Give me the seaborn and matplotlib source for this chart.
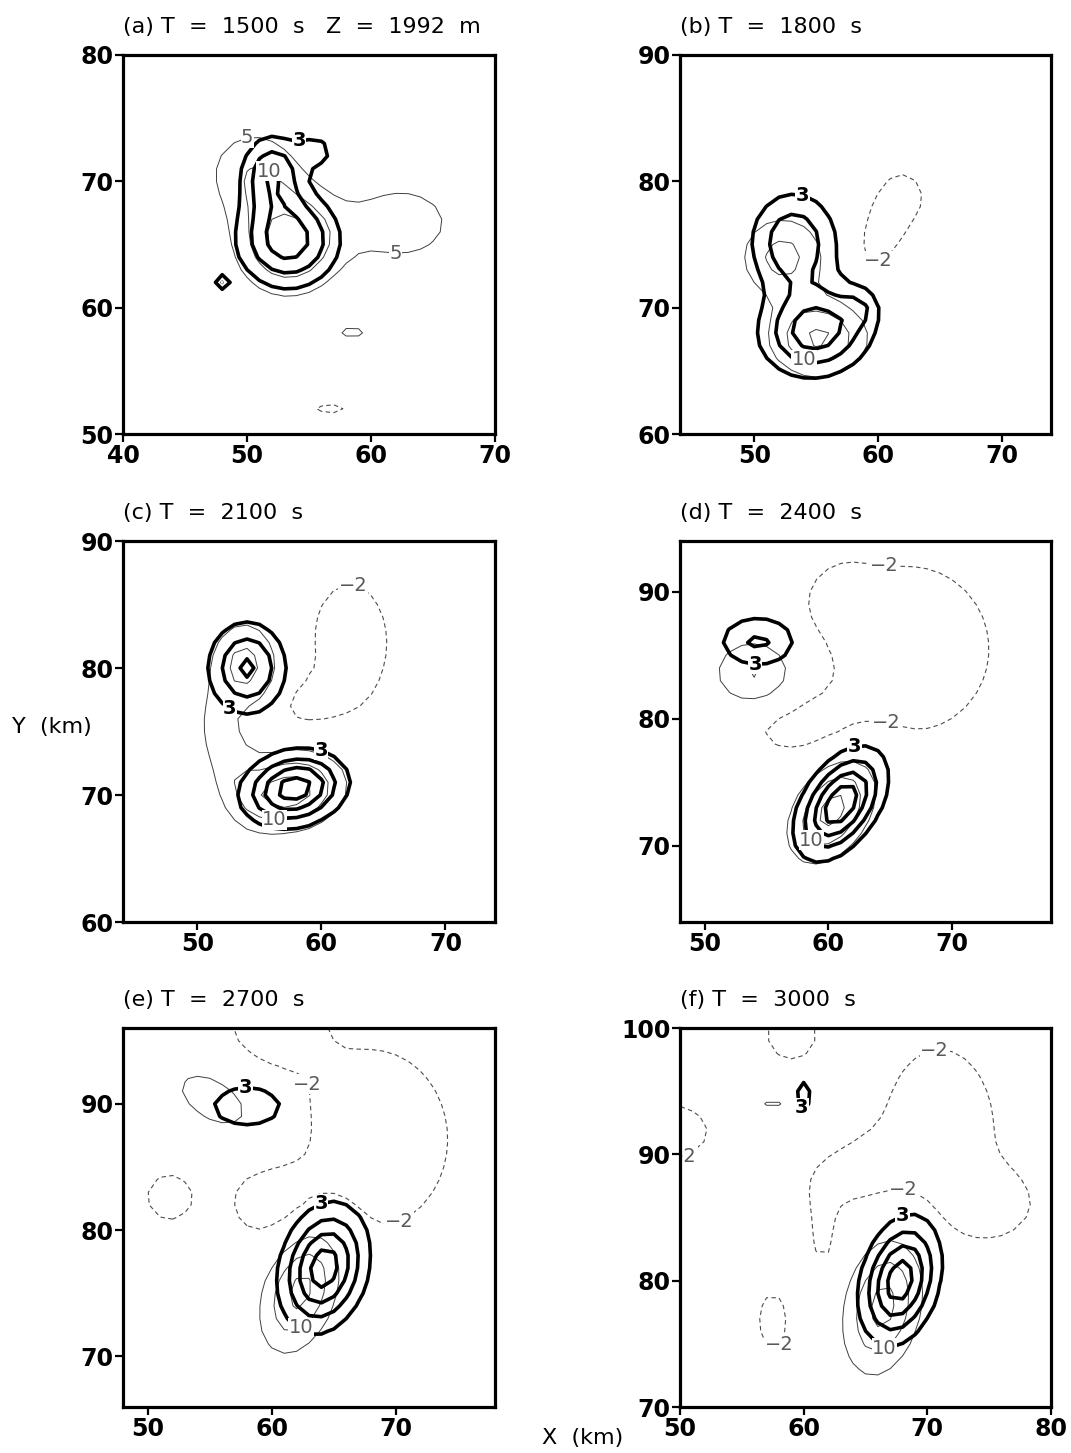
import numpy as np
import matplotlib
matplotlib.use("Agg")
import matplotlib.pyplot as plt
import seaborn as sns

# panel titles and axis windows (km)
titles = ["(a) T  =  1500  s   Z  =  1992  m", "(b) T  =  1800  s",
          "(c) T  =  2100  s", "(d) T  =  2400  s", "(e) T  =  2700  s",
          "(f) T  =  3000  s"]
xlims = [(40, 70), (44, 74), (44, 74), (48, 78), (48, 78), (50, 80)]
ylims = [(50, 80), (60, 90), (60, 90), (64, 94), (66, 96), (70, 100)]

thick_levels = [3, 6, 9, 12]
thin_levels = [5, 10, 15]
neg_levels = [-2]

# blobs: (x, y, amplitude, sigma_major, sigma_minor, angle)
# thick field (bold contours)
thick_a = [(53.3, 65.4, 11.0, 2.6, 2.4, 0), (52.0, 70.6, 8.5, 1.6, 2.0, 0),
           (55.6, 72.4, 4.0, 1.2, 1.0, 0), (48.0, 62.0, 5.5, 0.4, 0.4, 0)]
thick_b = [(55.0, 68.2, 11.0, 2.9, 2.3, 10), (53.2, 75.2, 8.6, 2.3, 2.6, 0),
           (58.5, 70.0, 3.5, 1.0, 1.0, 0)]
thick_c = [(54.0, 80.0, 9.6, 2.35, 2.05, 90), (57.8, 70.5, 13.8, 2.6, 1.75, 12)]
thick_d = [(54.3, 86.1, 6.6, 2.2, 1.43, 0), (61.0, 73.3, 14.5, 2.9, 1.7, 55)]
thick_e = [(58.0, 89.8, 5.0, 2.6, 1.45, 0), (64.2, 77.0, 13.8, 3.06, 2.06, 75)]
thick_f = [(60.0, 94.6, 5.0, 1.1, 0.6, 90), (67.8, 80.0, 14.0, 3.05, 1.82, 75)]

# thin field (light solid and dashed contours)
thin_a = [(53.3, 65.3, 17.0, 2.8, 2.8, 0), (50.5, 70.8, 9.0, 2.6, 2.4, 0),
          (62.5, 66.7, 7.5, 3.6, 2.6, 0), (58.5, 58.2, 8.0, 0.9, 0.5, 0),
          (56.7, 52.0, -3.0, 1.2, 0.3, 0)]
thin_b = [(55.2, 67.6, 16.0, 2.6, 2.0, 0), (52.3, 74.0, 12.0, 2.3, 2.2, 0),
          (60.6, 76.4, -3.6, 2.8, 1.4, 65), (62.0, 78.8, -2.2, 1.3, 1.3, 0)]
thin_c = [(53.8, 80.2, 12.0, 2.4, 1.9, 90), (52.3, 73.4, 7.5, 3.4, 1.4, 112),
          (57.5, 70.3, 18.0, 2.9, 2.0, 12), (62.3, 82.0, -3.5, 4.3, 2.8, 90),
          (58.8, 77.2, -3.0, 2.2, 1.3, 15)]
thin_d = [(54.0, 83.6, 11.0, 2.3, 1.9, 0), (60.3, 72.8, 17.0, 3.0, 1.9, 55),
          (66.5, 85.5, -4.0, 5.5, 5.5, 0), (57.3, 79.6, -3.2, 3.3, 1.8, 0),
          (61.0, 89.5, -2.6, 1.8, 1.8, 0)]
thin_e = [(55.5, 90.2, 7.0, 3.8, 2.0, -30), (62.3, 75.2, 17.0, 3.3, 1.9, 70),
          (68.0, 87.2, -3.6, 6.5, 5.7, 90), (59.8, 82.2, -3.0, 2.5, 2.3, 0),
          (60.0, 96.0, -4.0, 2.5, 2.0, 0), (51.7, 82.6, -3.5, 1.6, 1.6, 90)]
thin_f = [(66.4, 78.0, 17.0, 3.55, 1.98, 78), (57.5, 94.0, 7.0, 0.8, 0.3, 0),
          (59.0, 99.5, -3.5, 1.8, 1.8, 0), (49.0, 91.8, -3.5, 3.0, 2.0, 0),
          (71.0, 92.0, -3.6, 5.8, 4.0, 90), (64.0, 88.5, -3.0, 3.0, 1.8, 20),
          (61.6, 83.5, -2.8, 2.8, 0.9, 90), (75.5, 86.0, -3.0, 2.5, 2.0, 0),
          (57.5, 76.8, -3.5, 2.0, 1.0, 90)]

thick_fields = [thick_a, thick_b, thick_c, thick_d, thick_e, thick_f]
thin_fields = [thin_a, thin_b, thin_c, thin_d, thin_e, thin_f]

# where the contour labels sit
lab_thick = [[(54.1, 74.0)], [(53.9, 78.9)], [(52.0, 75.9), (60.0, 73.7)],
             [(54.1, 84.0), (62.1, 77.9)], [(57.9, 91.0), (63.8, 82.4)],
             [(59.9, 93.7), (67.9, 85.4)]]
lab_thin = [[(50.0, 74.0), (62.0, 64.2), (52.1, 71.4)], [(53.9, 65.4)],
            [(56.2, 68.2)], [(58.3, 70.1)], [(62.0, 72.8)], [(66.1, 75.5)]]
lab_neg = [[], [(60.2, 73.4)], [(62.6, 87.0)], [(64.5, 92.0), (64.5, 78.5)],
           [(62.3, 91.4), (70.6, 80.0)],
           [(70.5, 98.8), (68.1, 87.4), (58.2, 73.4), (50.8, 88.3)]]


def make_field(blobs, X, Y):
    Z = np.zeros_like(X)
    for x0, y0, amp, s1, s2, ang in blobs:
        t = np.radians(ang)
        dx, dy = X - x0, Y - y0
        u = dx * np.cos(t) + dy * np.sin(t)
        v = -dx * np.sin(t) + dy * np.cos(t)
        Z += amp * np.exp(-0.5 * ((u / s1) ** 2 + (v / s2) ** 2))
    return Z


def fmt(v):
    return str(int(round(v))).replace("-", "\u2212")


sns.set_style("ticks", {"axes.edgecolor": "black", "text.color": "black",
                        "xtick.color": "black", "ytick.color": "black"})
plt.rcParams["font.family"] = ["DejaVu Sans"]

fig = plt.figure(figsize=(10.71, 14.53), dpi=100)
W, H = 1071, 1453
cols = [(123, 495), (680, 1051)]
rows = [(55, 434), (541, 922), (1028, 1407)]

for i in range(6):
    (l, r), (t, b) = cols[i % 2], rows[i // 2]
    ax = fig.add_axes([l / W, 1 - b / H, (r - l) / W, (b - t) / H])
    x0, x1 = xlims[i]
    y0, y1 = ylims[i]
    xs = np.arange(x0 - 3, x1 + 4, 1.0)
    ys = np.arange(y0 - 3, y1 + 4, 1.0)
    X, Y = np.meshgrid(xs, ys)
    Zk = make_field(thick_fields[i], X, Y)
    Zt = make_field(thin_fields[i], X, Y)

    cs_pos = ax.contour(X, Y, Zt, levels=thin_levels, colors="0.25",
                        linewidths=0.7)
    cs_neg = ax.contour(X, Y, Zt, levels=neg_levels, colors="0.3",
                        linewidths=0.8, linestyles=[(0, (4, 3))])
    cs_k = ax.contour(X, Y, Zk, levels=thick_levels, colors="black",
                      linewidths=2.6)

    # labels sit flat on a white patch that breaks the line, as in the print
    if lab_thick[i]:
        ax.clabel(cs_k, levels=[3], manual=lab_thick[i], fmt=fmt,
                  fontsize=14, inline=False)
        for txt in cs_k.labelTexts:
            txt.set_fontweight("bold")
    if lab_thin[i]:
        ax.clabel(cs_pos, levels=[5, 10], manual=lab_thin[i], fmt=fmt,
                  fontsize=14, inline=False, colors="0.35")
    if lab_neg[i]:
        ax.clabel(cs_neg, levels=[-2], manual=lab_neg[i], fmt=fmt,
                  fontsize=14, inline=False, colors="0.35")
    for cs in (cs_k, cs_pos, cs_neg):
        for txt in cs.labelTexts:
            txt.set_rotation(0)
            txt.set_bbox(dict(facecolor="white", edgecolor="none", pad=0.3))
            txt.set_zorder(5)

    ax.set_xlim(x0, x1)
    ax.set_ylim(y0, y1)
    ax.set_xticks(np.arange(np.ceil(x0 / 10) * 10, x1 + 0.1, 10))
    ax.set_yticks(np.arange(np.ceil(y0 / 10) * 10, y1 + 0.1, 10))
    ax.tick_params(direction="out", length=5.5, width=1.6, labelsize=17,
                   pad=1.5)
    for lab in ax.get_xticklabels() + ax.get_yticklabels():
        lab.set_fontweight("bold")
    for sp in ax.spines.values():
        sp.set_linewidth(2.3)
        sp.set_visible(True)
        sp.set_zorder(6)
    ax.annotate(titles[i], xy=(0, 1), xycoords="axes fraction",
                xytext=(0, 22), textcoords="offset pixels",
                ha="left", va="baseline", fontsize=16)

fig.text(52 / W, 1 - 727 / H, "Y  (km)", ha="center", va="center",
         fontsize=16)
fig.text(583 / W, 1 - 1438 / H, "X  (km)", ha="center", va="center",
         fontsize=16)

fig.savefig("out.png", dpi=100)
